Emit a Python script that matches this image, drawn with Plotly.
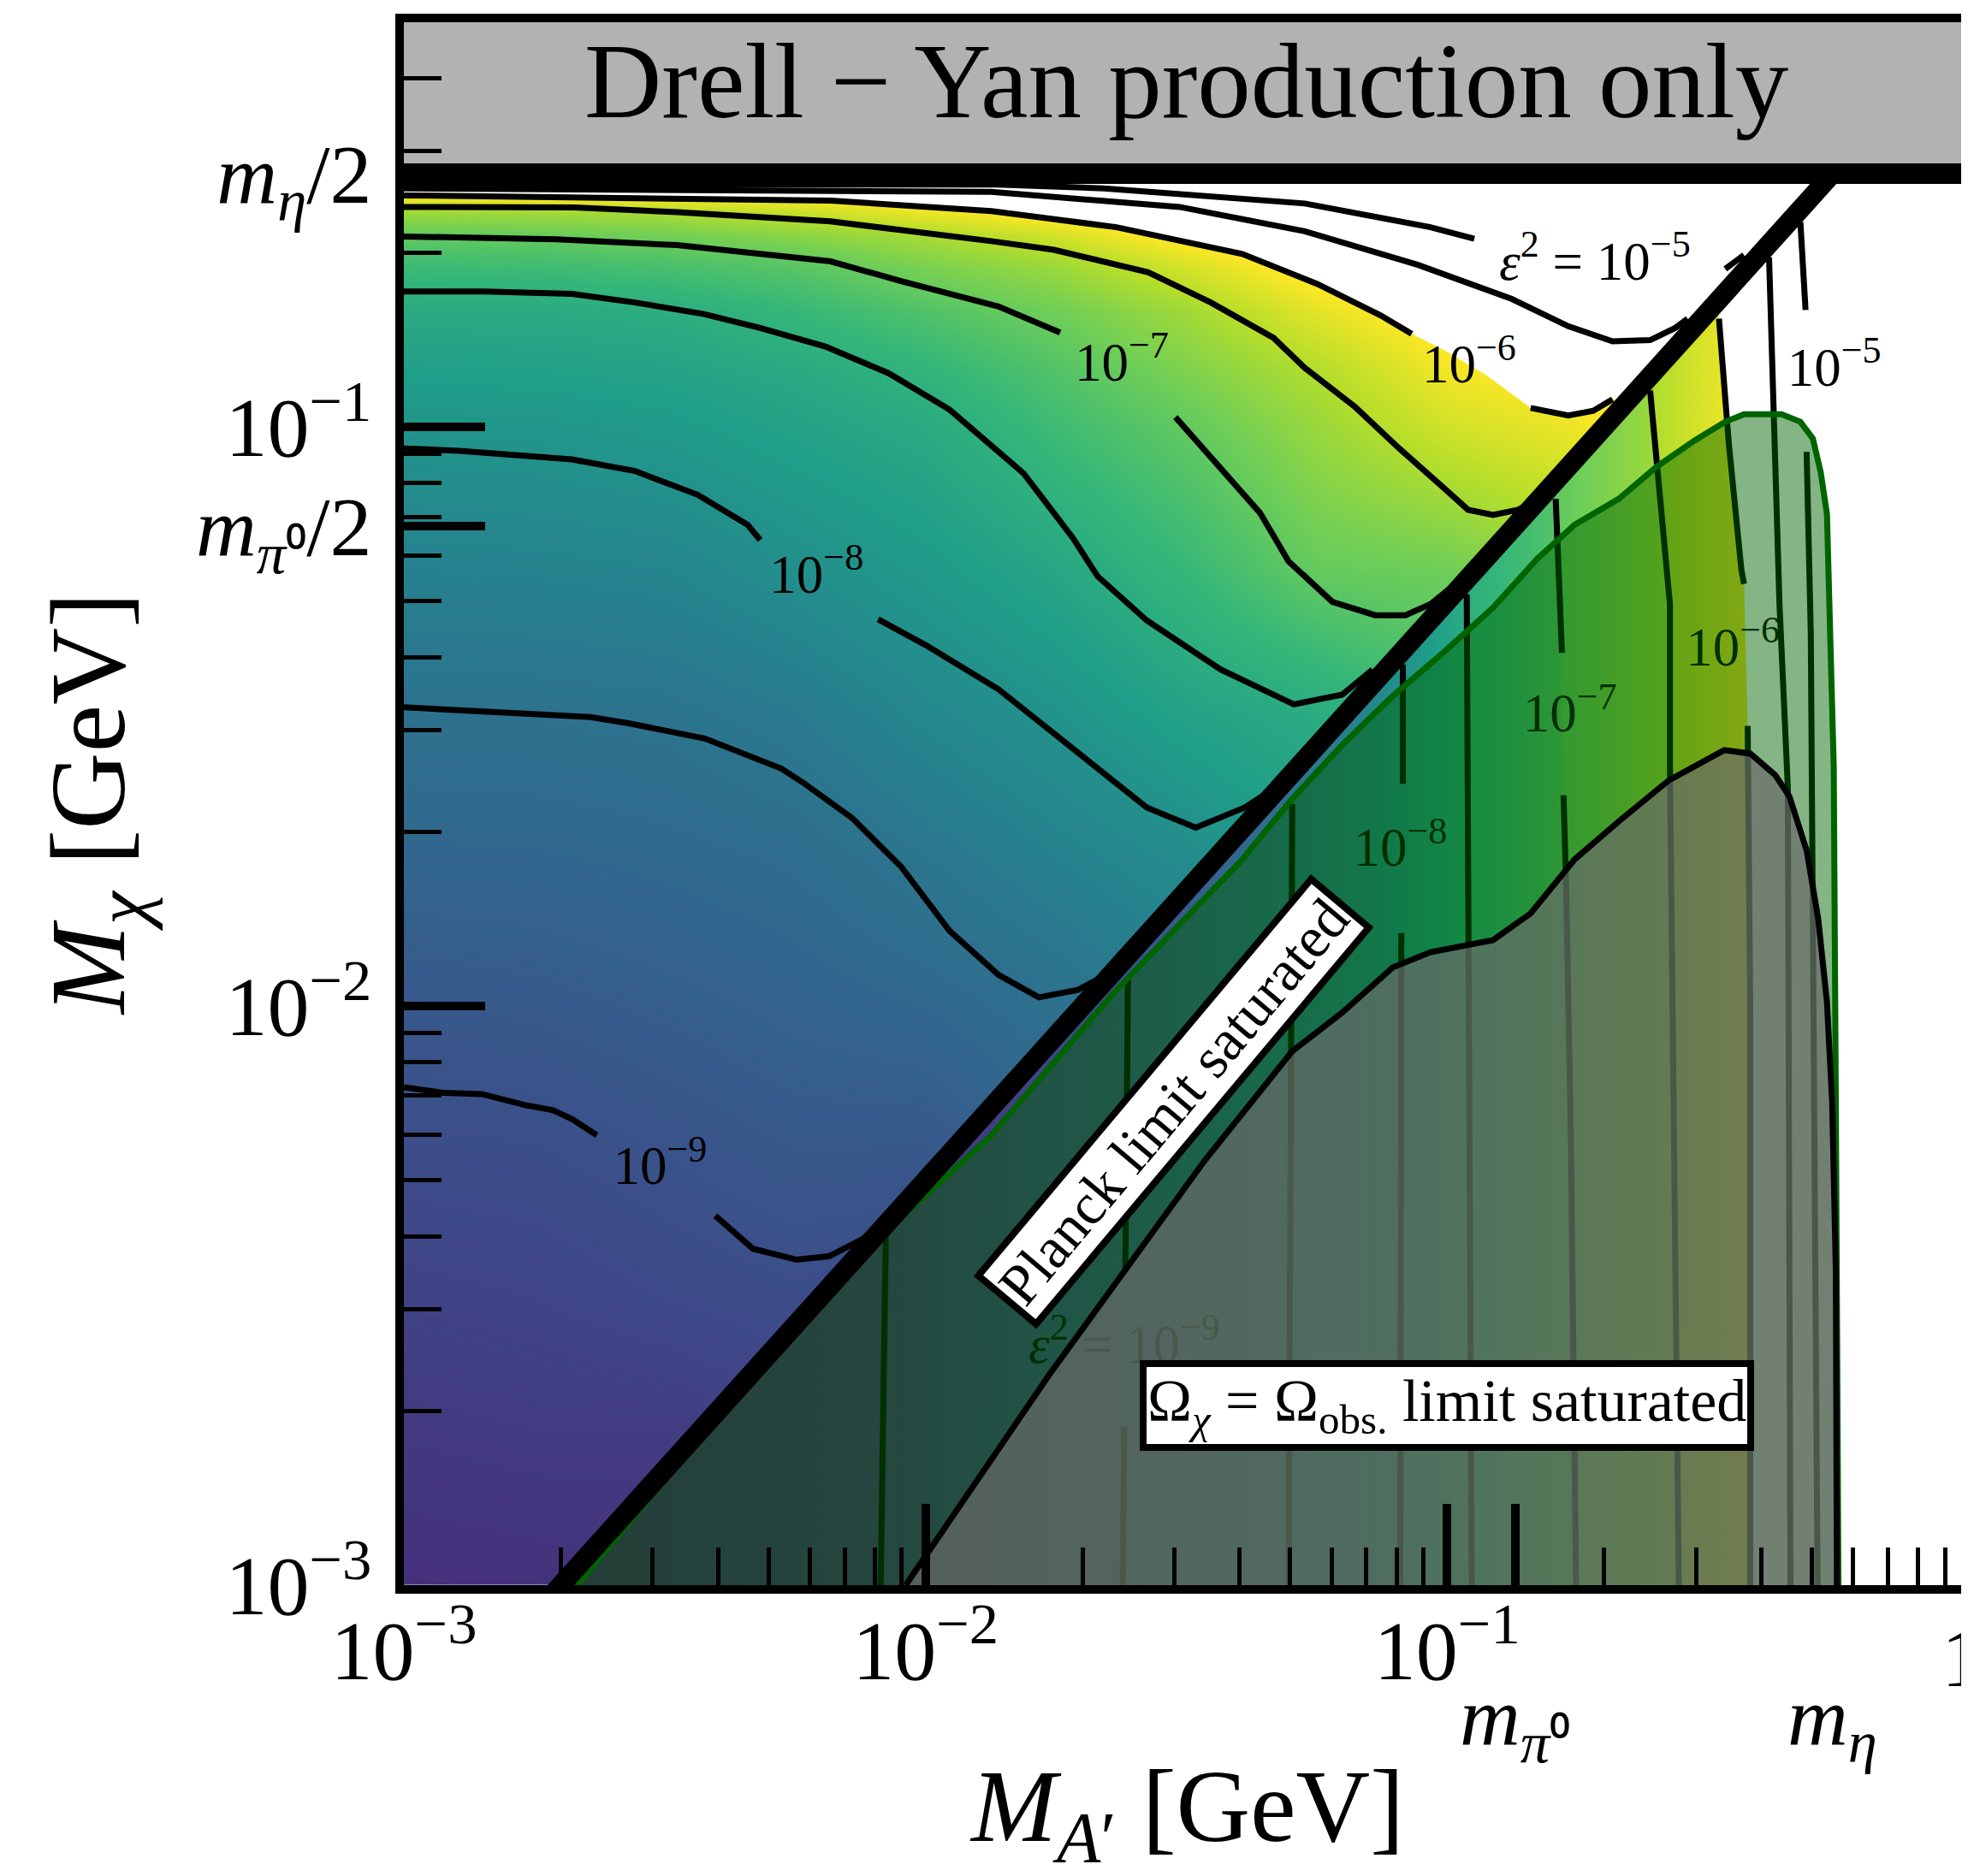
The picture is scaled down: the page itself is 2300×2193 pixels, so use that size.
import numpy as np
import plotly.graph_objects as go
from plotly.colors import sample_colorscale

# ------------------------------------------------------------------
# constants (GeV)
M_PI0 = 0.13498
M_ETA = 0.54786
LOG_HALF = float(np.log10(0.5))   # threshold line  M_chi = M_A'/2
Z_MIN, Z_MAX = -10.0, -6.0        # colour range of log10(eps^2)

# ------------------------------------------------------------------
# colour field: log10(eps^2) read at grid nodes
# nodes: log10(M_A'/GeV) (columns) x log10(M_chi/GeV) (rows)
field_log_MA = [-3.0, -2.75, -2.5, -2.25, -2.0, -1.75, -1.5, -1.25, -1.0, -0.75, -0.5]
field_log_Mchi = [-3.0, -2.75, -2.5, -2.25, -2.0, -1.75, -1.5, -1.25, -1.0,
                  -0.9, -0.8, -0.72, -0.67, -0.63, -0.6, -0.55]
field_col_m300 = [-9.45, -9.33, -9.20, -9.06, -8.90, -8.70, -8.51, -8.24, -7.93, -7.75, -7.56, -7.26, -6.99, -6.60, -6.00, -5.5]
field_col_m275 = [-9.43, -9.30, -9.17, -9.04, -8.87, -8.69, -8.50, -8.22, -7.91, -7.73, -7.56, -7.24, -6.95, -6.58, -5.95, -5.5]
field_col_m250 = [-9.40, -9.30, -9.10, -8.97, -8.81, -8.65, -8.47, -8.18, -7.84, -7.68, -7.51, -7.16, -6.87, -6.52, -5.90, -5.5]
field_col_m225 = [-9.30, -9.20, -9.05, -8.89, -8.74, -8.59, -8.36, -8.02, -7.70, -7.57, -7.33, -7.05, -6.72, -6.34, -5.95, -5.5]
field_col_m200 = [-9.35, -9.25, -9.10, -8.90, -8.67, -8.43, -8.14, -7.85, -7.56, -7.38, -7.11, -6.79, -6.53, -6.11, -5.80, -5.4]
field_col_m175 = [-9.10, -9.00, -8.85, -8.70, -8.53, -8.24, -7.96, -7.63, -7.26, -7.10, -6.88, -6.59, -6.27, -5.90, -5.60, -5.3]
field_col_m150 = [-8.80, -8.70, -8.60, -8.45, -8.30, -8.07, -7.70, -7.33, -6.99, -6.78, -6.57, -6.23, -5.90, -5.70, -5.50, -5.3]
field_col_m125 = [-8.40, -8.30, -8.20, -8.05, -7.90, -7.75, -7.55, -6.96, -6.62, -6.46, -6.15, -5.85, -5.70, -5.60, -5.50, -5.3]
field_col_m100 = [-8.00, -7.90, -7.80, -7.70, -7.55, -7.40, -7.20, -6.90, -6.27, -6.06, -5.85, -5.70, -5.60, -5.50, -5.50, -5.3]
field_col_m075 = [-7.40, -7.30, -7.20, -7.10, -7.00, -6.90, -6.75, -6.55, -6.10, -5.90, -5.70, -5.50, -5.50, -5.50, -5.50, -5.3]
field_col_m050 = [-7.00, -6.90, -6.80, -6.70, -6.60, -6.50, -6.40, -6.20, -5.80, -5.60, -5.50, -5.50, -5.50, -5.50, -5.50, -5.3]

# ------------------------------------------------------------------
# eps^2 contours above the threshold (log10 M_A', log10 M_chi)
eps2_m9_seg1_lx = [-3.0, -2.923, -2.851, -2.767, -2.714, -2.678, -2.630]
eps2_m9_seg1_ly = [-2.140, -2.150, -2.152, -2.171, -2.180, -2.195, -2.223]
eps2_m9_seg2_lx = [-2.403, -2.331, -2.247, -2.185, -2.122, -2.069]
eps2_m9_seg2_ly = [-2.362, -2.419, -2.438, -2.432, -2.403, -2.369]
eps2_m85_lx = [-3.0, -2.820, -2.642, -2.567, -2.423, -2.276, -2.235, -2.141, -2.047, -1.954, -1.860, -1.783, -1.708, -1.670]
eps2_m85_ly = [-1.484, -1.492, -1.501, -1.512, -1.538, -1.590, -1.614, -1.675, -1.759, -1.870, -1.946, -1.985, -1.972, -1.954]
eps2_m8_seg1_lx = [-3.0, -2.894, -2.678, -2.557, -2.437, -2.341, -2.317]
eps2_m8_seg1_ly = [-1.037, -1.041, -1.056, -1.076, -1.117, -1.169, -1.195]
eps2_m8_seg2_lx = [-2.091, -1.999, -1.860, -1.718, -1.576, -1.482, -1.388, -1.314]
eps2_m8_seg2_ly = [-1.332, -1.377, -1.453, -1.555, -1.657, -1.692, -1.657, -1.614]
eps2_m75_lx = [-3.0, -2.846, -2.678, -2.557, -2.425, -2.317, -2.192, -2.071, -1.954, -1.812, -1.718, -1.670, -1.576, -1.434, -1.294, -1.201, -1.143]
eps2_m75_ly = [-0.766, -0.766, -0.770, -0.785, -0.805, -0.829, -0.861, -0.907, -0.970, -1.080, -1.191, -1.258, -1.334, -1.419, -1.479, -1.462, -1.419]
eps2_m7_seg1_lx = [-3.0, -2.707, -2.476, -2.346, -2.182, -2.047, -1.860, -1.742]
eps2_m7_seg1_ly = [-0.671, -0.676, -0.686, -0.698, -0.714, -0.748, -0.792, -0.837]
eps2_m7_seg2_lx = [-1.521, -1.434, -1.359, -1.304, -1.220, -1.138, -1.080, -1.032, -0.984]
eps2_m7_seg2_ly = [-0.983, -1.072, -1.148, -1.232, -1.302, -1.325, -1.325, -1.306, -1.271]
eps2_m65_lx = [-3.0, -2.673, -2.476, -2.346, -2.182, -1.874, -1.754, -1.573, -1.453, -1.333, -1.273, -1.177, -1.092, -1.008, -0.960, -0.912, -0.864, -0.840]
eps2_m65_ly = [-0.620, -0.621, -0.629, -0.635, -0.645, -0.679, -0.694, -0.733, -0.785, -0.846, -0.898, -0.965, -1.037, -1.104, -1.143, -1.152, -1.143, -1.130]
eps2_m6_seg1_lx = [-3.0, -2.182, -1.874, -1.634, -1.393, -1.249, -1.128, -1.068]
eps2_m6_seg1_ly = [-0.600, -0.609, -0.627, -0.655, -0.701, -0.753, -0.807, -0.839]
eps2_m6_gap_lx = [-1.008, -0.924]
eps2_m6_gap_ly = [-0.866, -0.911]
eps2_m6_seg2_lx = [-0.840, -0.768, -0.720, -0.683]
eps2_m6_seg2_ly = [-0.967, -0.980, -0.972, -0.952]
eps2_m55_lx = [-3.0, -2.557, -1.874, -1.513, -1.273, -1.056, -0.876, -0.768, -0.683, -0.611, -0.563, -0.539]
eps2_m55_ly = [-0.588, -0.590, -0.594, -0.620, -0.662, -0.720, -0.779, -0.826, -0.852, -0.850, -0.829, -0.813]
eps2_m5_seg1_lx = [-3.0, -2.557, -1.874, -1.658, -1.273, -1.032, -0.948]
eps2_m5_seg1_ly = [-0.582, -0.582, -0.581, -0.588, -0.614, -0.655, -0.675]
eps2_m5_seg2_lx = [-0.467, -0.431]
eps2_m5_seg2_ly = [-0.727, -0.703]

# eps^2 contours below the threshold (nearly vertical), bottom -> top
vert_m95_lx = [-2.086, -2.081, -2.076]
vert_m95_ly = [-3.0, -2.657, -2.386]
vert_m9_seg1_lx = [-1.622, -1.619]
vert_m9_seg1_ly = [-3.0, -2.727]
vert_m9_seg2_lx = [-1.617, -1.612]
vert_m9_seg2_ly = [-2.460, -1.952]
vert_m85_lx = [-1.304, -1.299, -1.297]
vert_m85_ly = [-3.0, -2.076, -1.651]
vert_m8_seg1_lx = [-1.090, -1.088]
vert_m8_seg1_ly = [-3.0, -1.874]
vert_m8_seg2_lx = [-1.085, -1.085]
vert_m8_seg2_ly = [-1.616, -1.410]
vert_m75_lx = [-0.953, -0.960, -0.9625]
vert_m75_ly = [-3.0, -1.898, -1.289]
vert_m7_seg1_lx = [-0.753, -0.763, -0.772, -0.777]
vert_m7_seg1_ly = [-3.0, -2.223, -1.790, -1.636]
vert_m7_seg2_lx = [-0.780, -0.784, -0.792]
vert_m7_seg2_ly = [-1.390, -1.306, -1.124]
vert_m65_lx = [-0.556, -0.573, -0.573, -0.590, -0.611]
vert_m65_ly = [-3.0, -1.584, -1.306, -1.139, -0.937]
vert_m6_seg1_lx = [-0.419, -0.419, -0.424]
vert_m6_seg1_ly = [-3.0, -2.007, -1.516]
vert_m6_seg2_lx = [-0.431, -0.436, -0.460, -0.479]
vert_m6_seg2_ly = [-1.271, -1.247, -1.030, -0.813]
vert_m55_lx = [-0.342, -0.347, -0.363, -0.373, -0.383]
vert_m55_ly = [-3.0, -1.623, -1.306, -1.030, -0.707]
vert_m5_seg1_lx = [-0.290, -0.294, -0.299, -0.303, -0.311]
vert_m5_seg1_ly = [-3.0, -2.440, -1.790, -1.356, -1.043]
vert_m5_seg2_lx = [-0.313, -0.323]
vert_m5_seg2_ly = [-0.798, -0.646]

# contour labels
label_lx = [-1.624, -0.958, -2.209, -2.509, -0.717, -0.258, -0.4525, -0.765, -1.090, -1.619]
label_ly = [-0.896, -0.900, -1.2625, -2.284, -0.722, -0.905, -1.388, -1.503, -1.735, -2.592]
label_text = ["10<sup>−7</sup>", "10<sup>−6</sup>", "10<sup>−8</sup>", "10<sup>−9</sup>",
              "<i>ε</i><sup>2</sup> = 10<sup>−5</sup>", "10<sup>−5</sup>", "10<sup>−6</sup>",
              "10<sup>−7</sup>", "10<sup>−8</sup>", "<i>ε</i><sup>2</sup> = 10<sup>−9</sup>"]

# Planck-limit region (green outline)
planck_lx = [-2.668, -2.372, -2.058, -1.874, -1.640, -1.393, -1.297, -1.201, -1.104, -1.008, -0.912, -0.828,
             -0.756, -0.671, -0.599, -0.527, -0.467, -0.431, -0.359, -0.323, -0.299, -0.284, -0.272, -0.265,
             -0.259, -0.255, -0.250]
planck_ly = [-3.0, -2.679, -2.375, -2.223, -1.978, -1.747, -1.642, -1.549, -1.464, -1.390, -1.312, -1.228,
             -1.169, -1.124, -1.069, -1.024, -0.991, -0.978, -0.978, -0.991, -1.020, -1.078, -1.150, -1.354,
             -1.586, -2.167, -3.0]
# relic-abundance region (grey, black outline)
relic_lx = [-2.038, -1.764, -1.465, -1.297, -1.201, -1.136, -1.104, -1.032, -0.960, -0.912, -0.840, -0.756,
            -0.671, -0.575, -0.469, -0.419, -0.371, -0.344, -0.311, -0.289, -0.272, -0.262, -0.255, -0.253]
relic_ly = [-3.0, -2.638, -2.267, -2.078, -2.011, -1.961, -1.933, -1.907, -1.893, -1.886, -1.840, -1.747,
            -1.681, -1.610, -1.558, -1.564, -1.601, -1.638, -1.731, -1.848, -1.993, -2.167, -2.458, -3.0]

# ticks
x_major_vals = [1e-3, 1e-2, 1e-1, M_PI0, 1.0]
x_major_text = ["10<sup>−3</sup>", "10<sup>−2</sup>", "10<sup>−1</sup>", "", ""]
y_major_vals = [1e-3, 1e-2, M_PI0 / 2, 1e-1, M_ETA / 2]
y_major_text = ["10<sup>−3</sup>", "10<sup>−2</sup>", "<i>m</i><sub><i>π</i>⁰</sub>/2",
                "10<sup>−1</sup>", "<i>m</i><sub><i>η</i></sub>/2"]
minor_mult = [2, 3, 4, 5, 6, 7, 8, 9]

# ------------------------------------------------------------------
FONT = "Liberation Serif"
LINE_W = 7


def gev(vals):
    return [None if v is None else 10.0 ** v for v in vals]


def joined(segs):
    xs, ys = [], []
    for lx, ly in segs:
        xs += gev(lx) + [None]
        ys += gev(ly) + [None]
    return xs, ys


def band(l_lx, l_ly, r_lx, r_ly, bottom=-3.2):
    xs = [l_lx[0]] + list(l_lx) + [l_lx[-1], r_lx[-1]] + list(r_lx[::-1]) + [r_lx[0]]
    ys = [bottom] + list(l_ly) + [l_lx[-1] + LOG_HALF, r_lx[-1] + LOG_HALF] + list(r_ly[::-1]) + [bottom]
    return gev(xs), gev(ys)


def grad(z0, z1):
    t = np.linspace((z0 - Z_MIN) / (Z_MAX - Z_MIN), (z1 - Z_MIN) / (Z_MAX - Z_MIN), 5)
    cols = sample_colorscale("Viridis", [float(v) for v in t])
    return [[i / 4, c] for i, c in enumerate(cols)]


fig = go.Figure()

# colour field (above threshold)
field_cols = [field_col_m300, field_col_m275, field_col_m250, field_col_m225, field_col_m200,
              field_col_m175, field_col_m150, field_col_m125, field_col_m100, field_col_m075, field_col_m050]
Z = np.array(field_cols).T
fig.add_trace(go.Heatmap(x=gev(field_log_MA), y=gev(field_log_Mchi), z=Z, zsmooth="best",
                         colorscale="Viridis", zmin=Z_MIN, zmax=Z_MAX, showscale=False, hoverinfo="skip"))

# white region where eps^2 > 1e-6 (above threshold)
m6_lx = eps2_m6_seg1_lx + eps2_m6_gap_lx + eps2_m6_seg2_lx
m6_ly = eps2_m6_seg1_ly + eps2_m6_gap_ly + eps2_m6_seg2_ly
mask_lx = [-3.2] + m6_lx + [0.4, 0.4, -3.2]
mask_ly = [m6_ly[0]] + m6_ly + [m6_ly[-1], 0.2, 0.2]
fig.add_trace(go.Scatter(x=gev(mask_lx), y=gev(mask_ly), mode="lines", fill="toself",
                         fillcolor="white", line=dict(width=0), hoverinfo="skip"))

# below-threshold field: bands between vertical contours
v_m9_lx = vert_m9_seg1_lx + vert_m9_seg2_lx
v_m9_ly = vert_m9_seg1_ly + vert_m9_seg2_ly
v_m8_lx = vert_m8_seg1_lx + vert_m8_seg2_lx
v_m8_ly = vert_m8_seg1_ly + vert_m8_seg2_ly
v_m7_lx = vert_m7_seg1_lx + vert_m7_seg2_lx
v_m7_ly = vert_m7_seg1_ly + vert_m7_seg2_ly
v_m6_lx = vert_m6_seg1_lx + vert_m6_seg2_lx
v_m6_ly = vert_m6_seg1_ly + vert_m6_seg2_ly
diag_bottom_lx = [-3.2 - LOG_HALF]
diag_bottom_ly = [-3.2]
bands = [
    (diag_bottom_lx, diag_bottom_ly, vert_m95_lx, vert_m95_ly, -9.8, -9.5),
    (vert_m95_lx, vert_m95_ly, v_m9_lx, v_m9_ly, -9.5, -9.0),
    (v_m9_lx, v_m9_ly, vert_m85_lx, vert_m85_ly, -9.0, -8.5),
    (vert_m85_lx, vert_m85_ly, v_m8_lx, v_m8_ly, -8.5, -8.0),
    (v_m8_lx, v_m8_ly, vert_m75_lx, vert_m75_ly, -8.0, -7.5),
    (vert_m75_lx, vert_m75_ly, v_m7_lx, v_m7_ly, -7.5, -7.0),
    (v_m7_lx, v_m7_ly, vert_m65_lx, vert_m65_ly, -7.0, -6.5),
    (vert_m65_lx, vert_m65_ly, v_m6_lx, v_m6_ly, -6.5, -6.0),
]
for l_lx, l_ly, r_lx, r_ly, z0, z1 in bands:
    bx, by = band(l_lx, l_ly, r_lx, r_ly)
    fig.add_trace(go.Scatter(x=bx, y=by, mode="lines", fill="toself", line=dict(width=0),
                             fillgradient=dict(type="horizontal", colorscale=grad(z0, z1)),
                             hoverinfo="skip"))
bx, by = band(v_m6_lx, v_m6_ly, [0.4], [-3.2])
fig.add_trace(go.Scatter(x=bx, y=by, mode="lines", fill="toself", fillcolor="white",
                         line=dict(width=0), hoverinfo="skip"))

# contour lines
segs = [
    (eps2_m9_seg1_lx, eps2_m9_seg1_ly), (eps2_m9_seg2_lx, eps2_m9_seg2_ly),
    (eps2_m85_lx, eps2_m85_ly),
    (eps2_m8_seg1_lx, eps2_m8_seg1_ly), (eps2_m8_seg2_lx, eps2_m8_seg2_ly),
    (eps2_m75_lx, eps2_m75_ly),
    (eps2_m7_seg1_lx, eps2_m7_seg1_ly), (eps2_m7_seg2_lx, eps2_m7_seg2_ly),
    (eps2_m65_lx, eps2_m65_ly),
    (eps2_m6_seg1_lx, eps2_m6_seg1_ly), (eps2_m6_seg2_lx, eps2_m6_seg2_ly),
    (eps2_m55_lx, eps2_m55_ly),
    (eps2_m5_seg1_lx, eps2_m5_seg1_ly), (eps2_m5_seg2_lx, eps2_m5_seg2_ly),
    (vert_m95_lx, vert_m95_ly),
    (vert_m9_seg1_lx, vert_m9_seg1_ly), (vert_m9_seg2_lx, vert_m9_seg2_ly),
    (vert_m85_lx, vert_m85_ly),
    (vert_m8_seg1_lx, vert_m8_seg1_ly), (vert_m8_seg2_lx, vert_m8_seg2_ly),
    (vert_m75_lx, vert_m75_ly),
    (vert_m7_seg1_lx, vert_m7_seg1_ly), (vert_m7_seg2_lx, vert_m7_seg2_ly),
    (vert_m65_lx, vert_m65_ly),
    (vert_m6_seg1_lx, vert_m6_seg1_ly), (vert_m6_seg2_lx, vert_m6_seg2_ly),
    (vert_m55_lx, vert_m55_ly),
    (vert_m5_seg1_lx, vert_m5_seg1_ly), (vert_m5_seg2_lx, vert_m5_seg2_ly),
]
cx, cy = joined(segs)
fig.add_trace(go.Scatter(x=cx, y=cy, mode="lines", line=dict(color="black", width=LINE_W),
                         hoverinfo="skip", connectgaps=False))

# contour labels
fig.add_trace(go.Scatter(x=gev(label_lx), y=gev(label_ly), mode="text", text=label_text,
                         textposition="middle center",
                         textfont=dict(family=FONT, size=63, color="black"), hoverinfo="skip"))

# Planck-limit region
fig.add_trace(go.Scatter(x=gev(planck_lx), y=gev(planck_ly), mode="lines", fill="toself",
                         fillcolor="rgba(0,100,0,0.48)", line=dict(color="#006400", width=LINE_W),
                         hoverinfo="skip"))
# relic-abundance region
fig.add_trace(go.Scatter(x=gev(relic_lx), y=gev(relic_ly), mode="lines", fill="toself",
                         fillcolor="rgba(105,105,105,0.70)", line=dict(color="black", width=LINE_W),
                         hoverinfo="skip"))

# threshold M_A' = 2 M_chi, up to the eta mass
diag_MA = [10 ** (-3.2 - LOG_HALF), M_ETA]
fig.add_trace(go.Scatter(x=diag_MA, y=[v / 2 for v in diag_MA], mode="lines",
                         line=dict(color="black", width=23), hoverinfo="skip"))

# grey band above m_eta/2 and its bar
fig.add_trace(go.Scatter(x=[5e-4, 2.0, 2.0, 5e-4], y=[M_ETA / 2, M_ETA / 2, 0.8, 0.8], mode="lines",
                         fill="toself", fillcolor="#b2b2b2", line=dict(width=0), hoverinfo="skip"))
fig.add_trace(go.Scatter(x=[5e-4, 2.0], y=[M_ETA / 2, M_ETA / 2], mode="lines",
                         line=dict(color="black", width=24), hoverinfo="skip"))

# ------------------------------------------------------------------
ann = []
ann.append(dict(text="Drell − Yan production only", xref="paper", yref="paper", x=0.5, y=0.962,
                showarrow=False, font=dict(family=FONT, size=125, color="black"),
                xanchor="center", yanchor="middle"))
ann.append(dict(text="Planck limit saturated", xref="x", yref="y", x=-1.525, y=-2.165,
                showarrow=False, textangle=-50, font=dict(family=FONT, size=68, color="black"),
                bgcolor="white", bordercolor="black", borderwidth=8, borderpad=2))
ann.append(dict(text="Ω<sub><i>χ</i></sub> = Ω<sub>obs.</sub> limit saturated", xref="x", yref="y",
                x=-1.0, y=-2.69, showarrow=False, font=dict(family=FONT, size=70, color="black"),
                bgcolor="white", bordercolor="black", borderwidth=8, borderpad=1))
ann.append(dict(text="<i>M</i><sub><i>A</i>′</sub> [GeV]", xref="paper", yref="paper", x=0.5, y=-0.146,
                showarrow=False, font=dict(family=FONT, size=120, color="black"),
                xanchor="center", yanchor="middle"))
ann.append(dict(text="<i>M</i><sub><i>χ</i></sub> [GeV]", xref="paper", yref="paper", x=-0.197, y=0.5,
                showarrow=False, textangle=-90, font=dict(family=FONT, size=125, color="black"),
                xanchor="center", yanchor="middle"))
ann.append(dict(text="<i>m</i><sub><i>π</i>⁰</sub>", xref="x", yref="paper", x=float(np.log10(M_PI0)),
                y=-0.088, showarrow=False, font=dict(family=FONT, size=98, color="black"),
                xanchor="center", yanchor="middle"))
ann.append(dict(text="<i>m</i><sub><i>η</i></sub>", xref="x", yref="paper", x=float(np.log10(M_ETA)),
                y=-0.088, showarrow=False, font=dict(family=FONT, size=98, color="black"),
                xanchor="center", yanchor="middle"))
# tick label at M_A' = 1 GeV (at the right edge of the axis, cut by the figure edge)
ann.append(dict(text="1", xref="x", yref="paper", x=0.0, y=-0.0465, xshift=-8, showarrow=False,
                font=dict(family=FONT, size=98, color="black"), xanchor="center", yanchor="middle"))

axis_common = dict(type="log", showgrid=False, zeroline=False, showline=True, mirror=True,
                   linecolor="black", linewidth=10, ticks="inside", ticklen=95, tickwidth=10,
                   tickcolor="black", tickmode="array",
                   tickfont=dict(family=FONT, size=98, color="black"))

fig.update_layout(
    width=2300, height=2193,
    margin=dict(l=464, r=7, t=18, b=348, pad=0),
    plot_bgcolor="white", paper_bgcolor="white", showlegend=False,
    font=dict(family=FONT, color="black"),
    annotations=ann,
    xaxis=dict(axis_common, range=[-3, 0], tickvals=x_major_vals, ticktext=x_major_text,
               ticklabelstandoff=-18, automargin=False,
               minor=dict(ticks="inside", ticklen=44, tickwidth=5, tickcolor="black", showgrid=False,
                          tickvals=[k * 10.0 ** e for e in (-3, -2, -1) for k in minor_mult])),
    yaxis=dict(axis_common, range=[-3, float(np.log10(0.5))], tickvals=y_major_vals, ticktext=y_major_text,
               ticklabelstandoff=8, automargin=False,
               minor=dict(ticks="inside", ticklen=44, tickwidth=5, tickcolor="black", showgrid=False,
                          tickvals=[k * 10.0 ** e for e in (-3, -2) for k in minor_mult] + [0.2, 0.3, 0.4])),
)

fig.write_html("out.html", config={"displayModeBar": False})
